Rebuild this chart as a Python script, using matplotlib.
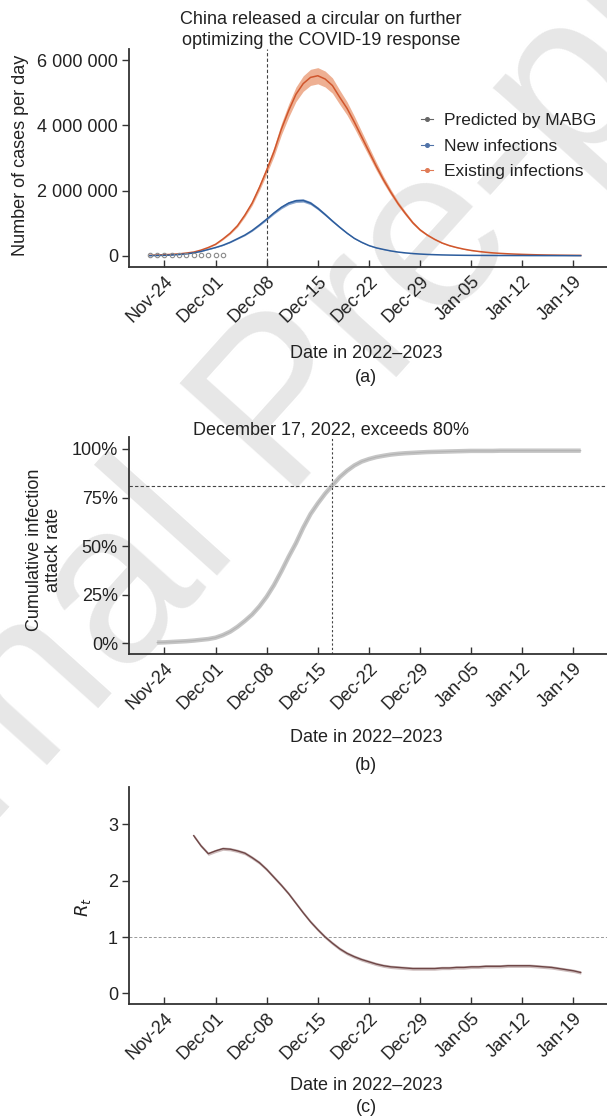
import numpy as np
import pandas as pd
import matplotlib
matplotlib.use("Agg")
import matplotlib.pyplot as plt
import matplotlib.dates as mdates
from matplotlib.lines import Line2D

plt.rcParams['font.family'] = ['Liberation Sans', 'DejaVu Sans']

# ---- data ----
# panel (a): daily values, Nov-22 .. Jan-20, in millions
model_start = '2022-11-22'
existing_m = [0.02, 0.03, 0.04, 0.05, 0.065, 0.09, 0.12, 0.18, 0.26, 0.36,
              0.52, 0.70, 0.93, 1.25, 1.62, 2.10, 2.63, 3.20, 3.88, 4.45,
              4.95, 5.28, 5.47, 5.52, 5.42, 5.22, 4.86, 4.52, 4.10, 3.65,
              3.20, 2.75, 2.33, 1.95, 1.60, 1.30, 1.02, 0.80, 0.64, 0.51,
              0.40, 0.32, 0.26, 0.21, 0.17, 0.14, 0.115, 0.095, 0.08, 0.068,
              0.058, 0.05, 0.043, 0.037, 0.032, 0.028, 0.025, 0.022, 0.02, 0.018]
new_m = [0.01, 0.015, 0.02, 0.03, 0.045, 0.065, 0.095, 0.14, 0.20, 0.26,
         0.33, 0.42, 0.53, 0.64, 0.78, 0.95, 1.13, 1.32, 1.49, 1.62,
         1.69, 1.70, 1.62, 1.46, 1.27, 1.07, 0.88, 0.70, 0.54, 0.42,
         0.32, 0.25, 0.20, 0.155, 0.12, 0.095, 0.075, 0.06, 0.048, 0.04,
         0.033, 0.028, 0.024, 0.021, 0.019, 0.018, 0.017, 0.016, 0.015, 0.015,
         0.014, 0.014, 0.013, 0.013, 0.012, 0.012, 0.011, 0.011, 0.01, 0.01]
existing_spread = 0.045   # relative half-width of the shaded band
new_spread = 0.03

obs_start = '2022-11-22'
observed = [28000, 30000, 31000, 32000, 33000, 34000, 35000, 35000, 36000, 36000, 36000]

# panel (b): cumulative attack rate (%), Nov-23 .. Jan-20
attack_start = '2022-11-23'
attack = [0.4, 0.5, 0.7, 0.9, 1.1, 1.4, 1.8, 2.2, 2.9, 4.2,
          6.0, 8.5, 11.5, 14.8, 19.0, 24.0, 30.0, 37.0, 44.5, 51.5,
          59.5, 66.5, 72.0, 77.0, 81.3, 85.5, 88.8, 91.5, 93.5, 94.8,
          95.8, 96.5, 97.1, 97.5, 97.8, 98.0, 98.2, 98.4, 98.5, 98.6,
          98.7, 98.8, 98.9, 99.0, 99.0, 99.0, 99.0, 99.1, 99.1, 99.1,
          99.1, 99.1, 99.1, 99.1, 99.1, 99.1, 99.1, 99.1, 99.1]
attack_mark = 81.1

# panel (c): Rt, Nov-28 .. Jan-20
rt_start = '2022-11-28'
rt = [2.80, 2.62, 2.48, 2.53, 2.57, 2.56, 2.53, 2.49, 2.41, 2.32,
      2.20, 2.06, 1.92, 1.77, 1.60, 1.43, 1.27, 1.13, 1.00, 0.89,
      0.79, 0.71, 0.65, 0.60, 0.56, 0.52, 0.49, 0.47, 0.46, 0.45,
      0.44, 0.44, 0.44, 0.44, 0.45, 0.45, 0.46, 0.46, 0.47, 0.47,
      0.48, 0.48, 0.48, 0.49, 0.49, 0.49, 0.49, 0.48, 0.47, 0.46,
      0.44, 0.42, 0.40, 0.37]
rt_spread = 0.03

tick_dates = ['2022-11-24', '2022-12-01', '2022-12-08', '2022-12-15', '2022-12-22',
              '2022-12-29', '2023-01-05', '2023-01-12', '2023-01-19']
circular_date = '2022-12-08'
exceed_date = '2022-12-17'

# ---- layout ----
W, H = 607, 1120
fig = plt.figure(figsize=(W / 100, H / 100), dpi=100)


def box(l, t, r, b):
    return [l / W, 1 - b / H, (r - l) / W, (b - t) / H]


def days(start, n):
    return pd.date_range(start, periods=n, freq='D')


x_lo = mdates.date2num(pd.Timestamp('2022-11-24')) - 4.86
x_hi = mdates.date2num(pd.Timestamp('2022-11-24')) + 60.6
FS = 13
ink = '#333333'


def style(ax):
    for s in ['top', 'right']:
        ax.spines[s].set_visible(False)
    for s in ['left', 'bottom']:
        ax.spines[s].set_color(ink)
        ax.spines[s].set_linewidth(1.3)
    ax.set_facecolor('none')
    ax.set_xlim(x_lo, x_hi)
    ax.set_xticks(pd.to_datetime(tick_dates))
    ax.xaxis.set_major_formatter(mdates.DateFormatter('%b-%d'))
    ax.tick_params(axis='x', direction='in', length=5, width=1, color=ink,
                   labelsize=FS, labelcolor='#222222', pad=4)
    ax.tick_params(axis='y', direction='out', length=5, width=1, color=ink,
                   labelsize=FS, labelcolor='#222222', pad=3)
    for lab in ax.get_xticklabels():
        lab.set_rotation(45)
        lab.set_ha('right')
        lab.set_rotation_mode('anchor')


# watermark (cut by the page edges, as in the source)
fig.text(287 / W, 1 - 410 / H, 'Journal Pre-proof', rotation=48, fontsize=165,
         color='#e7e7e7', ha='center', va='center', zorder=-1)

# ---- (a) ----
ax = fig.add_axes(box(129, 49.3, 607, 267))
style(ax)
d = days(model_start, len(existing_m))
ex = np.array(existing_m) * 1e6
nw = np.array(new_m) * 1e6
ax.fill_between(d, ex * (1 - existing_spread), ex * (1 + existing_spread),
                color='#eeb093', lw=0, zorder=2)
ax.plot(d, ex, color='#d0562c', lw=1.1, zorder=3)
ax.fill_between(d, nw * (1 - new_spread), nw * (1 + new_spread),
                color='#86a3cc', lw=0, zorder=2)
ax.plot(d, nw, color='#2d5d9d', lw=1.1, zorder=3)
ax.plot(days(obs_start, len(observed)), observed, 'o', ms=3.2, mfc='none',
        mec='#8a8a8a', mew=0.8, zorder=4)
ax.axvline(pd.Timestamp(circular_date), color='#444444', lw=0.8, ls=(0, (3, 2)))
ax.set_ylim(-0.337e6, 6.33e6)
ax.set_yticks([0, 2e6, 4e6, 6e6])
ax.set_yticklabels(['0', '2 000 000', '4 000 000', '6 000 000'])
handles = [Line2D([], [], color=c, marker='o', ms=2.6, lw=0.8)
           for c in ['#666666', '#5073a8', '#e07a55']]
ax.legend(handles, ['Predicted by MABG', 'New infections', 'Existing infections'],
          loc='upper left', bbox_to_anchor=(421 / W, 1 - 113 / H),
          bbox_transform=fig.transFigure, frameon=False, fontsize=12.5,
          handlelength=0.7, handletextpad=0.6, labelspacing=0.6, borderpad=0,
          borderaxespad=0, labelcolor='#222222')
fig.text(321 / W, 1 - 30 / H, 'China released a circular on further\noptimizing the COVID-19 response',
         ha='center', va='center', fontsize=FS, color='#222222', linespacing=1.25)
fig.text(21 / W, 1 - 155 / H, 'Number of cases per day', rotation=90,
         ha='center', va='center', fontsize=FS, color='#222222')
fig.text(366 / W, 1 - 354 / H, 'Date in 2022\u20132023', ha='center', va='center',
         fontsize=FS, color='#222222')
fig.text(366 / W, 1 - 378 / H, '(a)', ha='center', va='center', fontsize=FS, color='#222222')

# ---- (b) ----
ax = fig.add_axes(box(129, 436.7, 607, 654))
style(ax)
ax.plot(days(attack_start, len(attack)), attack, color='#c6c6c6', lw=3.2,
        solid_capstyle='butt', zorder=2)
ax.plot(days(attack_start, len(attack)), attack, color='#b3b3b3', lw=0.8, zorder=3)
ax.axhline(attack_mark, color='#444444', lw=0.8, ls=(0, (3, 2)))
ax.axvline(pd.Timestamp(exceed_date), color='#444444', lw=0.8, ls=(0, (2, 2)))
ax.set_ylim(-5.5, 106.3)
ax.set_yticks([0, 25, 50, 75, 100])
ax.set_yticklabels(['0%', '25%', '50%', '75%', '100%'])
fig.text(331 / W, 1 - 430 / H, 'December 17, 2022, exceeds 80%', ha='center', va='center',
         fontsize=FS, color='#222222')
fig.text(44 / W, 1 - 550 / H, 'Cumulative infection\nattack rate', rotation=90,
         ha='center', va='center', fontsize=FS, color='#222222', linespacing=1.15)
fig.text(366 / W, 1 - 737 / H, 'Date in 2022\u20132023', ha='center', va='center',
         fontsize=FS, color='#222222')
fig.text(366 / W, 1 - 765 / H, '(b)', ha='center', va='center', fontsize=FS, color='#222222')

# ---- (c) ----
ax = fig.add_axes(box(129, 786.7, 607, 1004))
style(ax)
dr = days(rt_start, len(rt))
r = np.array(rt)
ax.fill_between(dr, r - rt_spread, r + rt_spread, color='#cdbcbc', lw=0, zorder=2)
ax.plot(dr, r, color='#6e4646', lw=1.0, zorder=3)
ax.axhline(1, color='#999999', lw=0.7, ls=(0, (3, 2)))
ax.set_ylim(-0.19, 3.67)
ax.set_yticks([0, 1, 2, 3])
fig.text(83 / W, 1 - 907 / H, '$R_t$', rotation=90, ha='center', va='center',
         fontsize=FS, color='#222222')
fig.text(366 / W, 1 - 1085 / H, 'Date in 2022\u20132023', ha='center', va='center',
         fontsize=FS, color='#222222')
fig.text(366 / W, 1 - 1108 / H, '(c)', ha='center', va='center', fontsize=FS, color='#222222')

fig.savefig('out.png', dpi=100)
